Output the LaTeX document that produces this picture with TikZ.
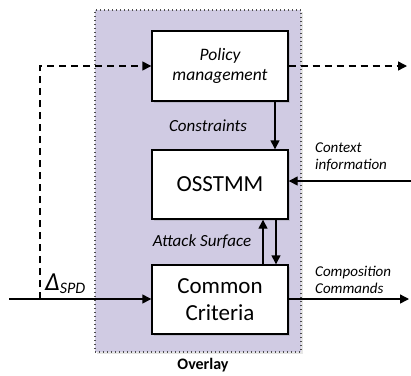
\documentclass[tikz,border=0pt]{standalone}
\usepackage{fontspec}
\setmainfont{Carlito}
\usetikzlibrary{arrows.meta,calc,shadows}
\definecolor{lav}{HTML}{D0CBE3}
\tikzset{
  blk/.style={draw=black,line width=1.4pt,fill=white,minimum width=136pt,minimum height=69pt,inner sep=0pt,align=center,
    drop shadow={opacity=0.25,shadow xshift=1.5pt,shadow yshift=-1.5pt}},
  conn/.style={line width=1.4pt,-{Triangle[length=9pt,width=9pt]}},
  dconn/.style={conn,dash pattern=on 7pt off 5pt},
  lbl/.style={font=\fontsize{17}{19}\selectfont\itshape,align=left,inner sep=0pt},
  slbl/.style={font=\fontsize{15}{17}\selectfont\itshape,align=left,inner sep=0pt,anchor=west},
}
\begin{document}
\begin{tikzpicture}[x=1pt,y=-1pt]
\useasboundingbox (0,0) rectangle (411,375);
\node[draw=black!70,line width=1.3pt,dash pattern=on 1pt off 3pt,fill=lav,minimum width=206pt,minimum height=342pt,inner sep=0pt,
  drop shadow={opacity=0.2,shadow xshift=1.5pt,shadow yshift=-1.5pt}] (ovl) at (198,181) {};
\node[blk,minimum height=70pt,font=\fontsize{17.5}{20}\selectfont\itshape] (pol) at (220,66) {Policy\\management};
\node[blk,font=\fontsize{23}{25}\selectfont] (oss) at (220,184.5) {OSSTMM};
\node[blk,font=\fontsize{23}{27}\selectfont] (cc) at (220,299.5) {Common\\Criteria};
\coordinate (in) at (9,299);
\coordinate (dsp) at (40,299);
\coordinate (dout) at (407,66);
\coordinate (ctx) at (411,181);
\coordinate (out) at (409,299);
\draw[line width=1.4pt] (in) -- (dsp);
\draw[conn] (dsp) -- (cc.west |- dsp);
\draw[dconn] (dsp) |- (pol.west);
\draw[dconn] (pol.east) -- (dout);
\draw[conn] ($(pol.south)+(55,0)$) -- ($(oss.north)+(55,0)$);
\draw[conn] (ctx) -- (oss.east |- ctx);
\draw[conn] ($(cc.north)+(43,0)$) -- ($(oss.south)+(43,0)$);
\draw[conn] ($(oss.south)+(56,0)$) -- ($(cc.north)+(56,0)$);
\draw[conn] (cc.east |- out) -- (out);
\node[lbl] (lcon) at (208,126) {Constraints};
\node[lbl] (latt) at (202,242) {Attack Surface};
\node[slbl] (lctx) at (315,157) {Context\\information};
\node[slbl] (lcmp) at (315,280) {Composition\\Commands};
\node[font=\fontsize{26}{28}\selectfont\itshape,inner sep=0pt,anchor=base west] (ldel) at (45,290) {Δ\raisebox{-0.15em}{\fontsize{16}{18}\selectfont SPD}};
\node[font=\fontsize{16}{18}\selectfont\bfseries,inner sep=0pt] (lovl) at (203,365) {Overlay};
\end{tikzpicture}
\end{document}
